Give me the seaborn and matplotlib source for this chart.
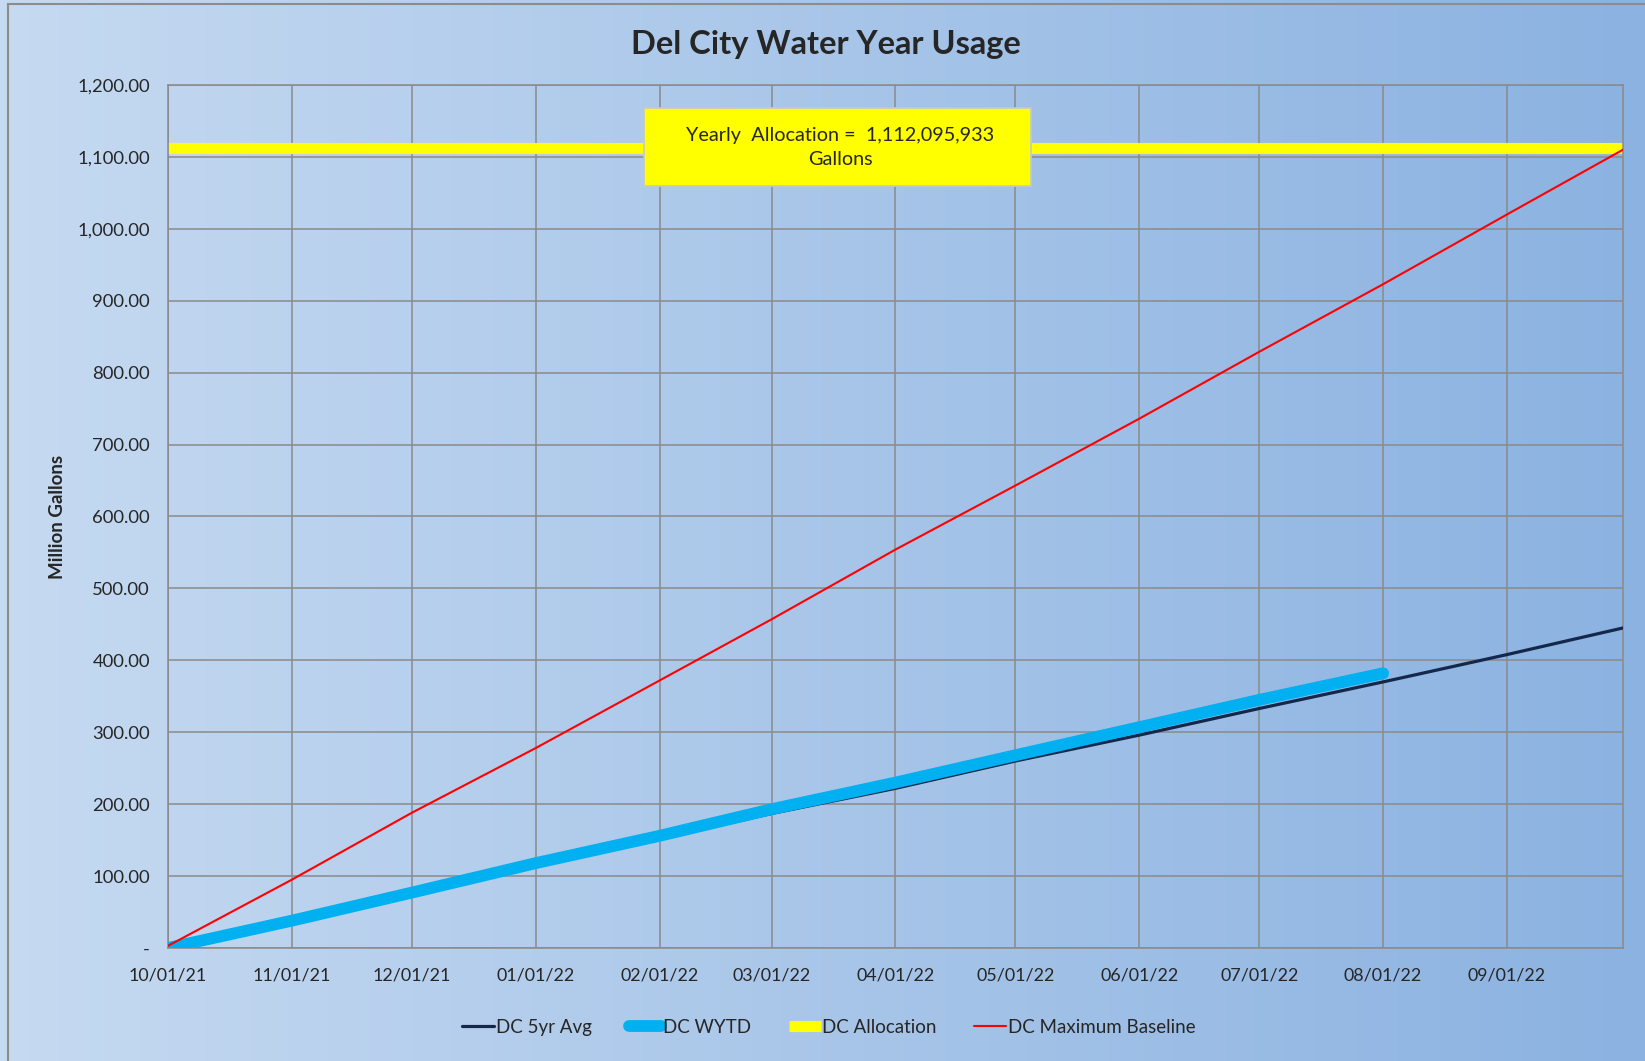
import numpy as np
import pandas as pd
import matplotlib
matplotlib.use("Agg")
import matplotlib.pyplot as plt
import matplotlib.dates as mdates
from matplotlib.patches import Rectangle
from matplotlib.ticker import FuncFormatter, MultipleLocator
import seaborn as sns

# data (million gallons, cumulative over the water year)
month_dates = ["2021-10-01", "2021-11-01", "2021-12-01", "2022-01-01", "2022-02-01",
               "2022-03-01", "2022-04-01", "2022-05-01", "2022-06-01", "2022-07-01",
               "2022-08-01", "2022-09-01", "2022-09-30"]
avg_5yr = [0, 37, 75, 116, 152, 187, 222, 260, 296, 333, 370, 408, 445]
max_baseline = [3, 95, 188, 278, 372, 457, 554, 643, 736, 829, 923, 1020, 1110]
wytd_dates = month_dates[:11]
wytd = [0, 38, 77, 118, 156, 193, 230, 268, 307, 345, 382]
allocation_dates = ["2021-10-01", "2022-09-30"]
allocation = [1112.095933, 1112.095933]

df_avg = pd.DataFrame({"date": pd.to_datetime(month_dates), "value": avg_5yr})
df_max = pd.DataFrame({"date": pd.to_datetime(month_dates), "value": max_baseline})
df_wytd = pd.DataFrame({"date": pd.to_datetime(wytd_dates), "value": wytd})
df_alloc = pd.DataFrame({"date": pd.to_datetime(allocation_dates), "value": allocation})

sns.set_style("white")
plt.rcParams["font.family"] = ["Lato", "DejaVu Sans"]

fig = plt.figure(figsize=(16.45, 10.61), dpi=100)

# background gradient
bg = fig.add_axes([0, 0, 1, 1], zorder=-10)
left_c = np.array([198, 218, 241]) / 255
right_c = np.array([139, 178, 225]) / 255
t = np.linspace(0, 1, 400)
grad = (left_c[None, :] * (1 - t[:, None]) + right_c[None, :] * t[:, None])[None, :, :]
bg.imshow(grad, aspect="auto", extent=[0, 1, 0, 1])
bg.axis("off")
fig.patches.append(Rectangle((8 / 1645, -0.05), 1.1, 1 - 4 / 1061 + 0.05,
                             transform=fig.transFigure, fill=False,
                             edgecolor="#8c8c8c", linewidth=1.5))

ax = fig.add_axes([0.1021, 0.1065, 0.8845, 0.8134])
ax.set_facecolor("none")

sns.lineplot(data=df_avg, x="date", y="value", ax=ax, color="#14284b",
             linewidth=2.3, label="DC 5yr Avg", zorder=3)
sns.lineplot(data=df_wytd, x="date", y="value", ax=ax, color="#00b0f0",
             linewidth=8.5, label="DC WYTD", zorder=4, solid_capstyle="round")
sns.lineplot(data=df_alloc, x="date", y="value", ax=ax, color="#ffff00",
             linewidth=8, label="DC Allocation", zorder=2, solid_capstyle="butt")
sns.lineplot(data=df_max, x="date", y="value", ax=ax, color="#ff0000",
             linewidth=1.5, label="DC Maximum Baseline", zorder=5)

ax.set_xlim(pd.Timestamp("2021-10-01"), pd.Timestamp("2022-09-30"))
ax.set_ylim(0, 1200)
ax.yaxis.set_major_locator(MultipleLocator(100))
ax.yaxis.set_major_formatter(FuncFormatter(lambda v, p: "-" if v == 0 else f"{v:,.2f}"))
ax.xaxis.set_major_locator(mdates.MonthLocator())
ax.xaxis.set_major_formatter(mdates.DateFormatter("%m/%d/%y"))

ax.grid(True, color="#8a8a8a", linewidth=1.1)
ax.set_axisbelow(True)
for s in ax.spines.values():
    s.set_color("#8a8a8a")
    s.set_linewidth(1.1)
ax.tick_params(axis="y", length=5, color="#8a8a8a", labelsize=13.3, pad=8)
ax.tick_params(axis="x", length=0, labelsize=12.9, pad=14)
ax.set_xlabel("")
ax.set_ylabel("Million Gallons", fontsize=13.5, fontweight="bold", labelpad=8)

fig.text(0.502, 0.958, "Del City Water Year Usage", ha="center", va="center",
         fontsize=23.5, fontweight="bold")

# allocation callout
ax.add_patch(Rectangle((0.327, 0.883), 0.266, 0.0904, transform=ax.transAxes,
                       facecolor="#ffff00", edgecolor="#c8c8c8", linewidth=1.2, zorder=6))
ax.text(0.462, 0.927, "Yearly  Allocation =  1,112,095,933\nGallons", transform=ax.transAxes,
        ha="center", va="center", fontsize=14.3, linespacing=1.5, zorder=7)

ax.get_legend().remove()
handles, labels = ax.get_legend_handles_labels()
fig.legend(handles, labels, loc="center", bbox_to_anchor=(0.504, 0.032), ncol=4,
           frameon=False, fontsize=13.5, handlelength=1.7, handletextpad=0.1,
           columnspacing=2.0)

fig.savefig("out.png", dpi=100)
